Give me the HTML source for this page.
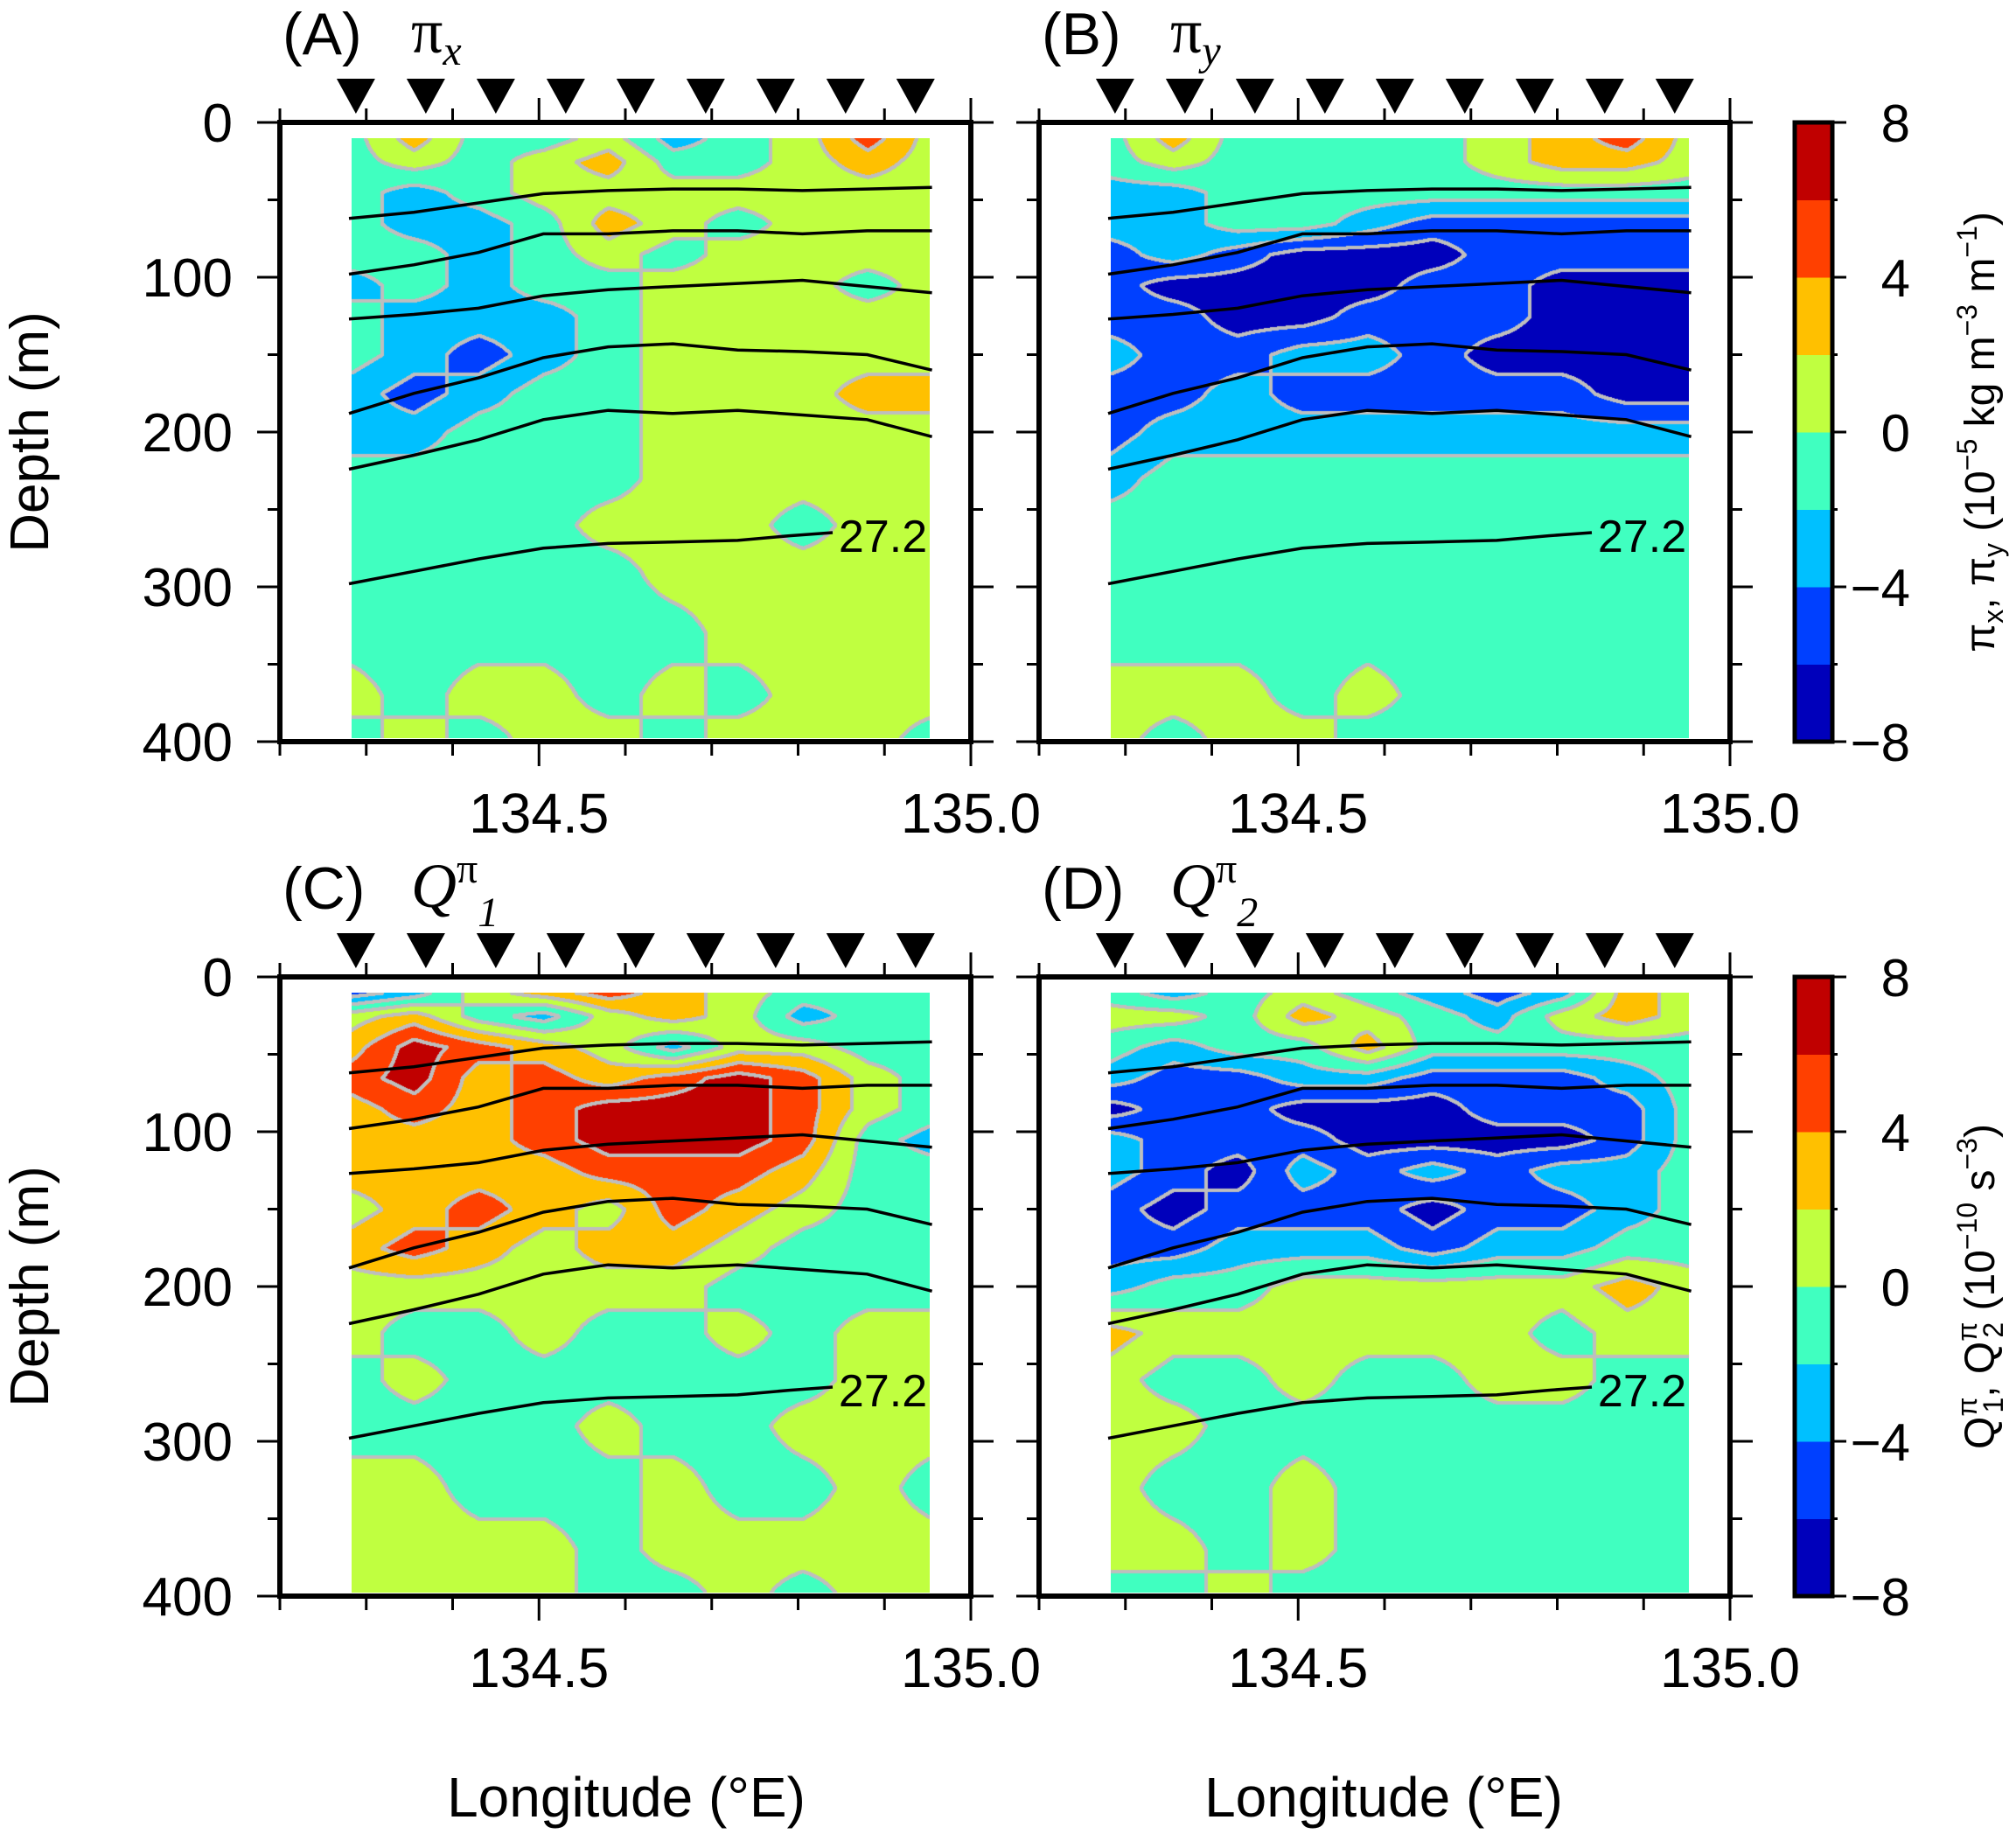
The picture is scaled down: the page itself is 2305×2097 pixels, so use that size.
<!DOCTYPE html>
<html><head><meta charset="utf-8"><style>
html,body{margin:0;padding:0;background:#fff;}
#root{position:relative;width:2305px;height:2097px;overflow:hidden;background:#fff;}
canvas{position:absolute;}
svg{position:absolute;left:0;top:0;}
text{font-family:"Liberation Sans",sans-serif;}
</style></head><body>
<div id="root">
<canvas id="cA"></canvas>
<canvas id="cB"></canvas>
<canvas id="cC"></canvas>
<canvas id="cD"></canvas>
<svg id="sv" width="2305" height="2097"></svg>
</div>
<script>
// ---- data ----
const lons = [134.28,134.355,134.43,134.505,134.58,134.655,134.73,134.805,134.88,134.955];
const depths = [10,25,45,65,85,105,125,150,175,200,230,260,290,330,370,398];
const stations = [134.288,134.369,134.45,134.531,134.612,134.693,134.774,134.855,134.936];
const fieldA = [
[-1,3,-1,-1,1,-3,-1,1,5,1],[-1,1,-1,1,3,-1,-1,1,3,1],[-1,-3,-1,1,1,1,1,1,1,1],
[-1,-3,-3,-1,3,1,-1,1,1,1],[-1,-1,-3,-1,1,-1,1,1,1,1],[-3,-1,-3,-1,-1,1,1,1,-1,1],
[-1,-3,-3,-3,-1,1,1,1,1,1],[-1,-3,-5,-3,-1,1,1,1,1,1],[-3,-5,-3,-1,-1,1,1,1,3,3],
[-3,-3,-1,-1,-1,1,1,1,1,1],[-1,-1,-1,-1,-1,1,1,1,1,1],[-1,-1,-1,-1,1,1,1,-1,1,1],
[-1,-1,-1,-1,-1,1,1,1,1,1],[-1,-1,-1,-1,-1,-1,1,1,1,1],[1,-1,1,1,-1,1,-1,1,1,1],
[-1,1,-1,1,1,-1,1,1,1,-1]];
const fieldB = [
[-1,3,-1,-1,-1,-1,1,3,5,1],[-1,1,-1,-1,-1,-1,1,3,3,1],[-3,-3,-1,-1,-1,-1,-1,-1,-1,-1],
[-3,-3,-1,-1,-3,-5,-5,-5,-5,-5],[-5,-3,-5,-7,-7,-7,-5,-5,-5,-5],[-5,-7,-7,-7,-7,-5,-5,-7,-7,-7],
[-5,-5,-7,-7,-5,-5,-5,-7,-7,-7],[-3,-5,-5,-3,-3,-5,-7,-7,-7,-7],[-5,-5,-3,-5,-5,-5,-5,-5,-7,-7],
[-5,-3,-3,-3,-3,-3,-3,-3,-3,-3],[-3,-1,-1,-1,-1,-1,-1,-1,-1,-1],[-1,-1,-1,-1,-1,-1,-1,-1,-1,-1],
[-1,-1,-1,-1,-1,-1,-1,-1,-1,-1],[-1,-1,-1,-1,-1,-1,-1,-1,-1,-1],[1,1,1,-1,1,-1,-1,-1,-1,-1],
[1,-1,1,1,-1,-1,-1,-1,-1,-1]];
const fieldC = [
[-5,-3,1,3,5,3,1,-1,-1,-1],[1,3,-1,-3,1,3,1,-3,-1,-1],[3,7,5,3,1,-3,1,1,-1,-1],
[5,7,3,5,3,5,7,5,1,-1],[3,5,3,5,7,7,7,5,1,-1],[3,3,3,5,7,7,7,5,-1,-3],
[3,3,3,3,5,5,5,3,-1,-1],[1,3,5,3,1,5,3,1,-1,-1],[3,5,3,1,3,3,1,-1,-1,-1],
[1,1,1,1,1,1,-1,-1,-1,-1],[1,-1,-1,1,-1,-1,1,-1,1,1],[-1,1,-1,-1,-1,-1,-1,-1,1,1],
[-1,-1,-1,-1,1,-1,-1,1,1,1],[1,1,-1,-1,-1,1,-1,-1,1,-1],[1,1,1,1,-1,1,1,1,1,1],
[1,1,1,1,-1,-1,1,-1,1,1]];
const fieldD = [
[-1,-3,-1,1,-1,-3,-5,-3,3,1],[1,1,-1,3,1,-1,-3,1,3,1],[-1,-3,-1,-1,3,-1,-1,-1,-1,-1],
[-3,-5,-5,-3,-3,-5,-5,-5,-3,-1],[-7,-5,-5,-7,-7,-7,-5,-5,-5,-1],[-3,-5,-5,-5,-7,-7,-7,-7,-5,-1],
[-3,-5,-7,-3,-5,-3,-5,-3,-3,-1],[-5,-7,-5,-5,-5,-7,-5,-5,-3,-1],[-5,-5,-3,-3,-3,-5,-3,-3,-1,-1],
[-3,-1,-1,1,1,1,1,1,3,1],[3,1,1,1,1,1,1,-1,1,1],[1,-1,-1,1,-1,-1,1,1,-1,-1],
[1,1,-1,-1,-1,-1,-1,-1,-1,-1],[1,-1,-1,1,-1,-1,-1,-1,-1,-1],[1,1,-1,1,-1,-1,-1,-1,-1,-1],
[-1,-1,1,-1,-1,-1,-1,-1,-1,-1]];
const iso1 = [62,58,52,46,44,43,43,44,43,42];
const iso2 = [98,92,84,72,72,70,70,72,70,70];
const iso3 = [127,124,120,112,108,106,104,102,106,110];
const iso4 = [188,175,165,152,145,143,147,148,150,160];
const iso5 = [224,215,205,192,186,188,186,189,192,203];
const iso6Lons = [134.28,134.355,134.43,134.505,134.58,134.655,134.73,134.79,134.84];
const iso6 = [298,290,282,275,272,271,270,267,265];
const yTicks = [0,100,200,300,400];
const xTickLabels = ["134.5","135.0"];
const xTickVals = [134.5,135.0];
const cbTicks = [8,4,0,-4,-8];
const binColors = ["#0000BB","#0040FF","#00C0FF","#40FFC0","#C0FF40","#FFC000","#FF4000","#C00000"];

// ---- layout ----
const panels = [
 {id:"a",c:"cA",f:fieldA,x0:320,y0:140,lab:"(A)"},
 {id:"b",c:"cB",f:fieldB,x0:1188,y0:140,lab:"(B)"},
 {id:"c",c:"cC",f:fieldC,x0:320,y0:1117,lab:"(C)"},
 {id:"d",c:"cD",f:fieldD,x0:1188,y0:1117,lab:"(D)"}];
const PW=790, PH=708;
const NS="http://www.w3.org/2000/svg";
const sv=document.getElementById('sv');
function el(tag,attrs,parent,txt){const e=document.createElementNS(NS,tag);for(const k in attrs)e.setAttribute(k,attrs[k]);if(txt!==undefined)e.textContent=txt;(parent||sv).appendChild(e);return e;}
function xs(p,lon){return p.x0+(lon-134.2)/0.8*PW;}
function ys(p,d){return p.y0+d/400*PH;}
function interp(f,lon,d){
  let i=0;while(i<lons.length-2&&lon>lons[i+1])i++;
  let j=0;while(j<depths.length-2&&d>depths[j+1])j++;
  let tx=(lon-lons[i])/(lons[i+1]-lons[i]);tx=Math.max(0,Math.min(1,tx));
  let ty=(d-depths[j])/(depths[j+1]-depths[j]);ty=Math.max(0,Math.min(1,ty));
  const a=f[j][i],b=f[j][i+1],c=f[j+1][i],e=f[j+1][i+1];
  return (a*(1-tx)+b*tx)*(1-ty)+(c*(1-tx)+e*tx)*ty;
}
function hex(h){return [parseInt(h.substr(1,2),16),parseInt(h.substr(3,2),16),parseInt(h.substr(5,2),16)];}
const rgb=binColors.map(hex);
const offs=[];
for(let dy=-2;dy<=2;dy++)for(let dx=-2;dx<=2;dx++){if((dx||dy)&&dx*dx+dy*dy<=5)offs.push([dx,dy]);}

panels.forEach(p=>{
  const cv=document.getElementById(p.c);
  const L=Math.round(xs(p,134.283)),R=Math.round(xs(p,134.952));
  const T=Math.round(ys(p,10)),B=Math.round(ys(p,398));
  const w=R-L,h=B-T;
  cv.width=w;cv.height=h;cv.style.left=L+'px';cv.style.top=T+'px';
  const ctx=cv.getContext('2d');
  const bins=new Int8Array(w*h);
  for(let y=0;y<h;y++){const d=10+(y/h)*388;
    for(let x=0;x<w;x++){const lon=134.283+(x/w)*0.669;
      const v=interp(p.f,lon,d);let b=Math.floor((v+8)/2);b=Math.max(0,Math.min(7,b));bins[y*w+x]=b;}}
  const img=ctx.createImageData(w,h);
  for(let y=0;y<h;y++)for(let x=0;x<w;x++){
    const k=y*w+x,b=bins[k];let g=false;
    for(const [dx,dy] of offs){
      const xx=x+dx,yy=y+dy;if(xx<0||yy<0||xx>=w||yy>=h)continue;
      if(bins[yy*w+xx]!==b){g=true;break;}}
    const c=g?[190,190,190]:rgb[b];
    img.data[k*4]=c[0];img.data[k*4+1]=c[1];img.data[k*4+2]=c[2];img.data[k*4+3]=255;}
  ctx.putImageData(img,0,0);

  const grp=el('g',{});
  
  
  [iso1,iso2,iso3,iso4,iso5,iso6].forEach((arr,n)=>{
    const lonArr = n===5?iso6Lons:lons;
    const pts=arr.map((d,i)=>xs(p,lonArr[i]).toFixed(1)+','+ys(p,d).toFixed(1)).join(' ');
    const pl=el('polyline',{points:pts,fill:'none',stroke:'#000','stroke-width':3.5},grp);
    
    
  });
  const lt=el('text',{x:xs(p,134.847),y:ys(p,iso6[iso6.length-1])+22,'font-size':52},grp,'27.2');
  
  
  const fr=el('rect',{x:p.x0,y:p.y0,width:PW,height:PH,fill:'none',stroke:'#000','stroke-width':6},grp);
  
  
  for(let d=0;d<=400;d+=50){const maj=d%100===0;const y=ys(p,d);
    const t1=el('line',{x1:p.x0-(maj?26:14),x2:p.x0,y1:y,y2:y,stroke:'#000','stroke-width':3},grp);
    
    const t2=el('line',{x1:p.x0+PW,x2:p.x0+PW+(maj?26:14),y1:y,y2:y,stroke:'#000','stroke-width':3},grp);
    }
  if(p.id==='a'||p.id==='c'){
    yTicks.forEach(d=>{const t=el('text',{x:266,y:ys(p,d)+22,'font-size':62,'text-anchor':'end'},grp,String(d));
      });
    const yt=el('text',{x:0,y:0,'font-size':62,'text-anchor':'middle',transform:`translate(55,${p.y0+PH/2}) rotate(-90)`},grp,'Depth (m)');
    
  }
  for(let k=0;k<=8;k++){const lon=134.2+k*0.1;const x=xs(p,lon);const maj=(k===3||k===8);
    const t1=el('line',{x1:x,x2:x,y1:p.y0+PH,y2:p.y0+PH+(maj?28:16),stroke:'#000','stroke-width':3},grp);
    
    const t2=el('line',{x1:x,x2:x,y1:p.y0,y2:p.y0-(maj?28:16),stroke:'#000','stroke-width':3},grp);
    }
  xTickVals.forEach((v,i)=>{const t=el('text',{x:xs(p,v),y:p.y0+PH+104,'font-size':64,'text-anchor':'middle'},grp,xTickLabels[i]);
    });
  stations.forEach(s=>{const x=xs(p,s);const yt=p.y0-50,yb=p.y0-10;
    const tr=el('polygon',{points:`${x-22},${yt} ${x+22},${yt} ${x},${yb}`,fill:'#000'},grp);
    });
  const tt=el('text',{x:p.x0+3,y:p.y0-78,'font-size':68},grp,p.lab);
  
  const st=el('text',{x:p.x0+150,y:p.y0-80,'font-size':72,'font-style':'italic',style:'font-family:"Liberation Serif",serif'},grp);
  
  if(p.id==='a'||p.id==='b'){
    el('tspan',{'font-style':'normal'},st,'π');
    el('tspan',{'font-size':48,dy:14},st,p.id==='a'?'x':'y');
  } else {
    el('tspan',{},st,'Q');
    el('tspan',{'font-size':48,dy:-28,'font-style':'normal'},st,'π');
    el('tspan',{'font-size':48,dy:50},st,p.id==='c'?'1':'2');
  }
});
[716,1582].forEach(x=>{const t=el('text',{x:x,y:2077,'font-size':64,'text-anchor':'middle'},null,'Longitude (°E)');
  });
[{y0:140,lab:1},{y0:1117,lab:2}].forEach(cb=>{
  const g=el('g',{});
  binColors.forEach((c,i)=>{const hh=PH/8;const r=el('rect',{x:2052,y:cb.y0+(7-i)*hh,width:43,height:hh+0.5,fill:c},g);
    });
  el('rect',{x:2052,y:cb.y0,width:43,height:PH,fill:'none',stroke:'#000','stroke-width':5},g);
  for(let k=0;k<=8;k++){const y=cb.y0+k*PH/8;const maj=k%2===0;
    const t=el('line',{x1:2095,x2:2095+(maj?16:6),y1:y,y2:y,stroke:'#000','stroke-width':3},g);
    }
  cbTicks.forEach((v,i)=>{const t=el('text',{x:2184,y:cb.y0+i*PH/4+22,'font-size':60,'text-anchor':'end'},g,v<0?'−'+(-v):String(v));
    });
  const tl=el('text',{x:0,y:0,'font-size':48,'text-anchor':'middle',transform:`translate(2280,${cb.y0+PH/2}) rotate(-90)`},g);
  
  if(cb.lab===1){
    el('tspan',{},tl,'π');el('tspan',{'font-size':32,dy:10},tl,'x');el('tspan',{dy:-10},tl,', π');
    el('tspan',{'font-size':32,dy:10},tl,'y');el('tspan',{dy:-10},tl,' (10');el('tspan',{'font-size':32,dy:-20},tl,'−5');
    el('tspan',{dy:20},tl,' kg m');el('tspan',{'font-size':32,dy:-20},tl,'−3');el('tspan',{dy:20},tl,' m');
    el('tspan',{'font-size':32,dy:-20},tl,'−1');el('tspan',{dy:20},tl,')');
  } else {
    el('tspan',{},tl,'Q');el('tspan',{'font-size':32,dy:-20},tl,'π');el('tspan',{'font-size':32,dx:-18,dy:30},tl,'1');
    el('tspan',{dy:-10},tl,', Q');el('tspan',{'font-size':32,dy:-20},tl,'π');el('tspan',{'font-size':32,dx:-18,dy:30},tl,'2');
    el('tspan',{dy:-10},tl,' (10');el('tspan',{'font-size':32,dy:-20},tl,'−10');el('tspan',{dy:20},tl,' s');
    el('tspan',{'font-size':32,dy:-20},tl,'−3');el('tspan',{dy:20},tl,')');
  }
});
</script>
</body></html>
